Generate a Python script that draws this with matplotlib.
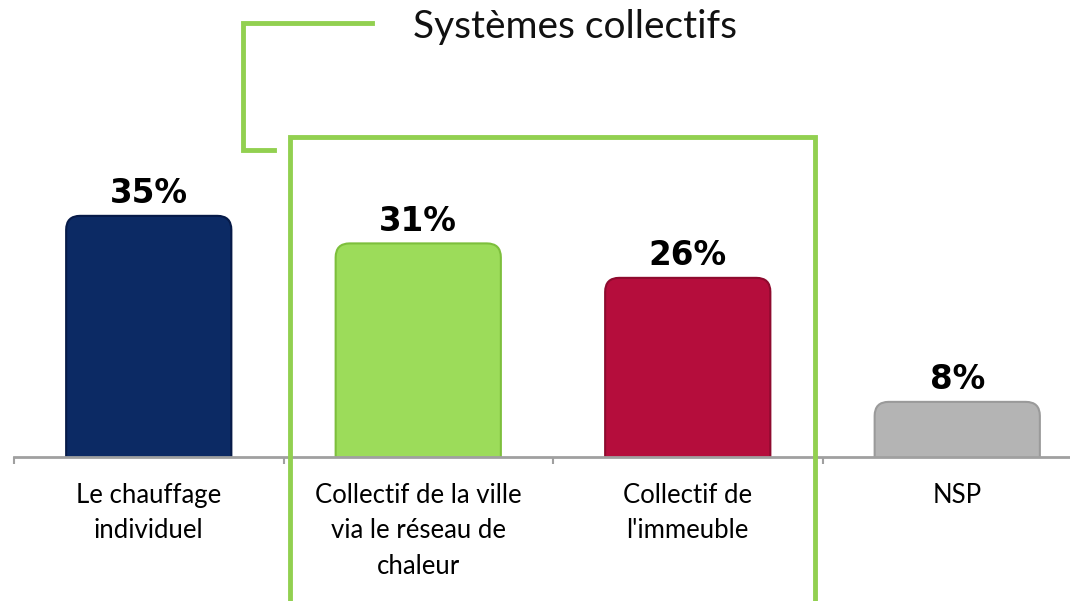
import matplotlib
matplotlib.use("Agg")
import matplotlib.pyplot as plt
from matplotlib.patches import FancyBboxPatch, Rectangle
from matplotlib.lines import Line2D

# data
categories = ["Le chauffage\nindividuel", "Collectif de la ville\nvia le réseau de\nchaleur",
              "Collectif de\nl'immeuble", "NSP"]
values = [35, 31, 26, 8]
colors = ["#0C2A64", "#9CDC5A", "#B50D3C", "#B4B4B4"]
edges = ["#061A48", "#7DBF3C", "#8E0A2E", "#9A9A9A"]
group_title = "Systèmes collectifs"

W, H = 1070, 601
fig = plt.figure(figsize=(W / 100, H / 100), dpi=100)

# axes: left edge at x=14px, baseline at y=457px, one category = 269.5px
ax_left, ax_base, cat_px = 14, 457, 269.5
ax_width = W - ax_left
ax = fig.add_axes([ax_left / W, (H - ax_base) / H, ax_width / W, ax_base / H])

x = list(range(len(values)))
bars = ax.bar(x, values, width=0.613, color="none")

ymax = ax_base / 6.89
px_x = 1 / cat_px
px_y = ymax / ax_base
aspect = px_y / px_x
for b, c, e in zip(bars, colors, edges):
    r = 14 * px_x
    p = FancyBboxPatch((b.get_x(), -r * aspect), b.get_width(), b.get_height() + r * aspect,
                       boxstyle=f"round,pad=0,rounding_size={r}", mutation_aspect=aspect,
                       facecolor=c, edgecolor=e, linewidth=1.5, zorder=2)
    ax.add_patch(p)
    ax.text(b.get_x() + b.get_width() / 2, b.get_height() + 0.8, f"{b.get_height():.0f}%",
            ha="center", va="bottom", fontsize=23.5, fontweight="bold",
            family="DejaVu Sans", color="black")

for s in ["top", "right", "left"]:
    ax.spines[s].set_visible(False)
ax.spines["bottom"].set_color("#A0A0A0")
ax.spines["bottom"].set_linewidth(2)
ax.set_yticks([])
ax.set_xticks([i - 0.5 for i in range(len(values) + 1)])
ax.set_xticklabels([])
ax.tick_params(axis="x", direction="out", length=5, width=1.5, color="#A0A0A0")
ax.set_xlim(-0.5, -0.5 + ax_width / cat_px)
ax.set_ylim(0, ymax)

for i, lab in enumerate(categories):
    ax.text(i, -3.8, lab, ha="center", va="top", fontsize=18.5, family="Lato",
            linespacing=1.51, color="black")

# group box and bracket (figure pixels, y from top)
green = "#92D050"
def fy(y):
    return 1 - y / H
fig.patches.append(Rectangle((290 / W, fy(630)), (815 - 290) / W, (630 - 137) / H,
                             transform=fig.transFigure, fill=False,
                             edgecolor=green, linewidth=3.5, zorder=5))
fig.lines.append(Line2D([274 / W, 243 / W, 243 / W, 372 / W],
                        [fy(150), fy(150), fy(23), fy(23)],
                        transform=fig.transFigure, color=green, linewidth=3.5,
                        solid_joinstyle="miter"))
fig.text(575 / W, fy(27), group_title, ha="center", va="center",
         fontsize=28, family="Lato", color="#111111")

fig.savefig("out.png", dpi=100)
